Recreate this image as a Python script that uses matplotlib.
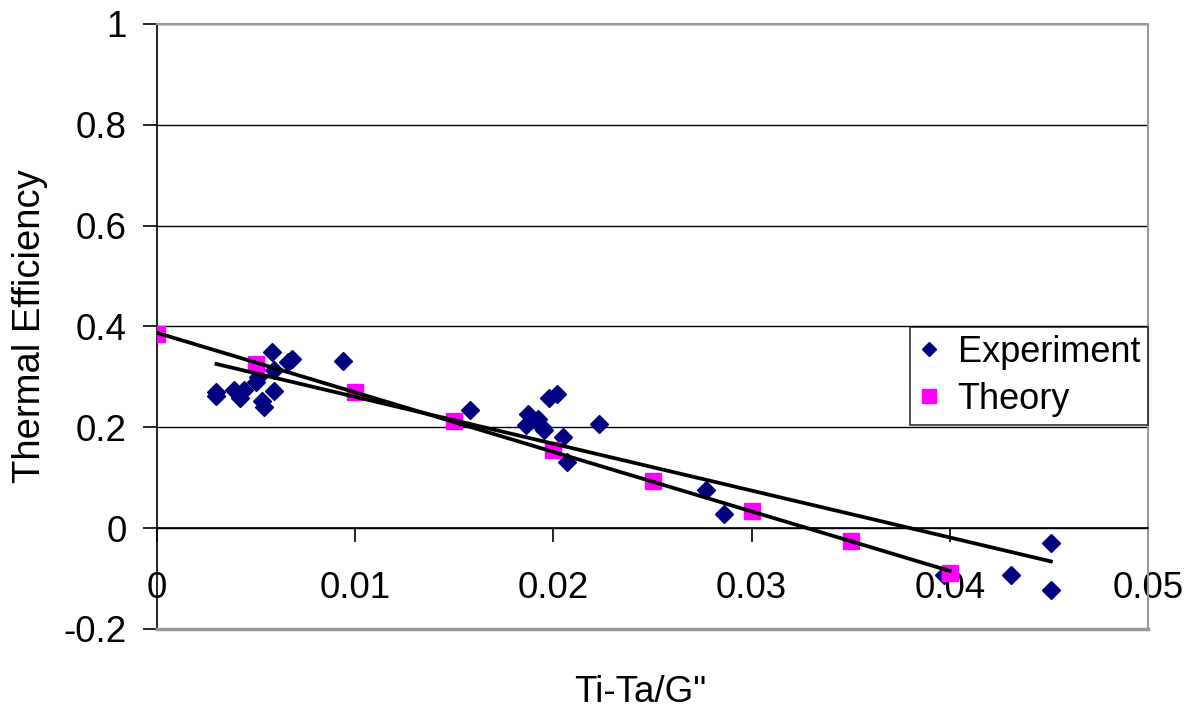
import numpy as np
import matplotlib
matplotlib.use("Agg")
import matplotlib.pyplot as plt

plt.rcParams['font.family'] = ['Liberation Sans', 'DejaVu Sans']

# experiment points
exp_x = [0.0030, 0.0030, 0.0039, 0.0042, 0.0044, 0.0050, 0.0051, 0.0053, 0.0054,
         0.0058, 0.0059, 0.0059, 0.0066, 0.0068, 0.0094, 0.0158, 0.0186, 0.0187,
         0.0192, 0.0194, 0.0195, 0.0198, 0.0202, 0.0205, 0.0207, 0.0223, 0.0277,
         0.0286, 0.0397, 0.0431, 0.0451, 0.0451]
exp_y = [0.270, 0.262, 0.274, 0.258, 0.274, 0.289, 0.300, 0.252, 0.240,
         0.349, 0.314, 0.273, 0.330, 0.336, 0.332, 0.235, 0.204, 0.227,
         0.217, 0.200, 0.195, 0.258, 0.266, 0.181, 0.131, 0.207, 0.075,
         0.029, -0.093, -0.093, -0.029, -0.123]

# theory points
th_x = [0.0, 0.005, 0.010, 0.015, 0.020, 0.025, 0.030, 0.035, 0.040]
th_y = [0.385, 0.326, 0.270, 0.212, 0.155, 0.094, 0.034, -0.026, -0.089]

fig = plt.figure(figsize=(11.96, 7.18), dpi=100)
ax = fig.add_axes([0.1313, 0.124, 0.8286, 0.8426])

ax.plot(exp_x, exp_y, 'D', color='#000080', ms=9, mec='#000080', label='Experiment', zorder=3)
ax.plot(th_x, th_y, 's', color='#FF00FF', ms=11, mec='#FF00FF', label='Theory', zorder=3)

# linear trendlines
p1 = np.polyfit(exp_x, exp_y, 1)
xx1 = np.array([min(exp_x), max(exp_x)])
ax.plot(xx1, np.polyval(p1, xx1), color='black', lw=2.7, zorder=4)
p2 = np.polyfit(th_x, th_y, 1)
xx2 = np.array([min(th_x), max(th_x)])
ax.plot(xx2, np.polyval(p2, xx2), color='black', lw=2.7, zorder=4)

ax.set_xlim(0, 0.05)
ax.set_ylim(-0.2, 1)
ax.set_xticks([0, 0.01, 0.02, 0.03, 0.04, 0.05])
ax.set_xticklabels(['0', '0.01', '0.02', '0.03', '0.04', '0.05'])
ax.set_yticks([-0.2, 0, 0.2, 0.4, 0.6, 0.8, 1])
ax.set_yticklabels(['-0.2', '0', '0.2', '0.4', '0.6', '0.8', '1'])
ax.grid(axis='y', color='black', lw=1)
ax.set_axisbelow(True)

for s in ['top', 'right']:
    ax.spines[s].set_color('#999999')
    ax.spines[s].set_linewidth(1.5)
ax.spines['left'].set_color('black')
ax.spines['left'].set_linewidth(1.2)
ax.spines['bottom'].set_position(('data', 0))
ax.spines['bottom'].set_color('black')
ax.spines['bottom'].set_linewidth(1.2)
ax.axhline(-0.2, color='#999999', lw=2.5, clip_on=False, zorder=5)

ax.tick_params(axis='y', direction='out', length=10, width=1.2, pad=12, labelsize=26.5)
ax.tick_params(axis='x', direction='out', length=10, width=1.2, pad=21, labelsize=26.5)

fig.text(30 / 1196, 1 - 326 / 718, 'Thermal Efficiency', fontsize=27.5,
         rotation=90, ha='center', va='center')
fig.text(640 / 1196, 1 - 693 / 718, 'Ti-Ta/G"', fontsize=26.5, ha='center', va='center')

leg = ax.legend(loc='upper right', bbox_to_anchor=(1.0, 0.499), fontsize=26,
                frameon=True, fancybox=False, edgecolor='black', handlelength=0.6,
                handletextpad=0.5, borderpad=0.22, labelspacing=0.33, borderaxespad=0)
leg.get_frame().set_linewidth(1.2)
leg.legend_handles[0].set_markersize(7)
leg.legend_handles[1].set_markersize(10)

fig.savefig('out.png', dpi=100)
